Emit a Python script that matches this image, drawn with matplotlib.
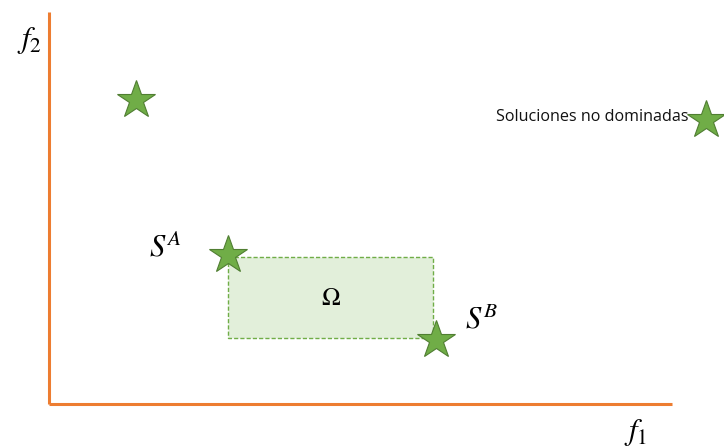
import matplotlib
matplotlib.use("Agg")
import matplotlib.pyplot as plt
from matplotlib.patches import Rectangle

plt.rcParams["mathtext.fontset"] = "stix"

# data (pixel-like coordinates, y grows downward)
star_x = [136, 228, 436, 706]
star_y = [100, 255, 340, 120]

box_x = [228, 433]   # left, right
box_y = [257, 338]   # top, bottom

axis_origin = (49, 404)
axis_x_end = 672
axis_y_end = 12

ORANGE = "#ED7D31"
GREEN = "#70AD47"
GREEN_DARK = "#507E32"
BOX_FILL = "#E2EFDA"

fig = plt.figure(figsize=(7.24, 4.48), dpi=100)
ax = fig.add_axes([0, 0, 1, 1])
ax.set_xlim(0, 724)
ax.set_ylim(448, 0)
ax.axis("off")

# axes lines
ax.plot([axis_origin[0], axis_origin[0]], [axis_y_end, axis_origin[1]],
        color=ORANGE, lw=2.2, solid_capstyle="butt")
ax.plot([axis_origin[0], axis_x_end], [axis_origin[1], axis_origin[1]],
        color=ORANGE, lw=2.2, solid_capstyle="butt")

# dominated region
ax.add_patch(Rectangle((box_x[0], box_y[0]), box_x[1] - box_x[0], box_y[1] - box_y[0],
                       facecolor=BOX_FILL, edgecolor=GREEN, lw=1.0, ls=(0, (3, 1.5)),
                       zorder=2))

# solutions
ax.plot(star_x, star_y, ls="none", marker="*", ms=29, mfc=GREEN,
        mec=GREEN_DARK, mew=0.8, zorder=3)

# labels
ax.text(30, 40, r"$f_2$", fontsize=22, ha="center", va="center")
ax.text(636, 432, r"$f_1$", fontsize=22, ha="center", va="center")
ax.text(165, 248, r"$S^A$", fontsize=22, ha="center", va="center")
ax.text(482, 320, r"$S^B$", fontsize=22, ha="center", va="center")
ax.text(331, 298, r"$\Omega$", fontsize=18, ha="center", va="center")
ax.text(689, 117, "Soluciones no dominadas", fontsize=11.6, family="Open Sans",
        ha="right", va="center", color="#111111")

fig.savefig("out.png", dpi=100)
